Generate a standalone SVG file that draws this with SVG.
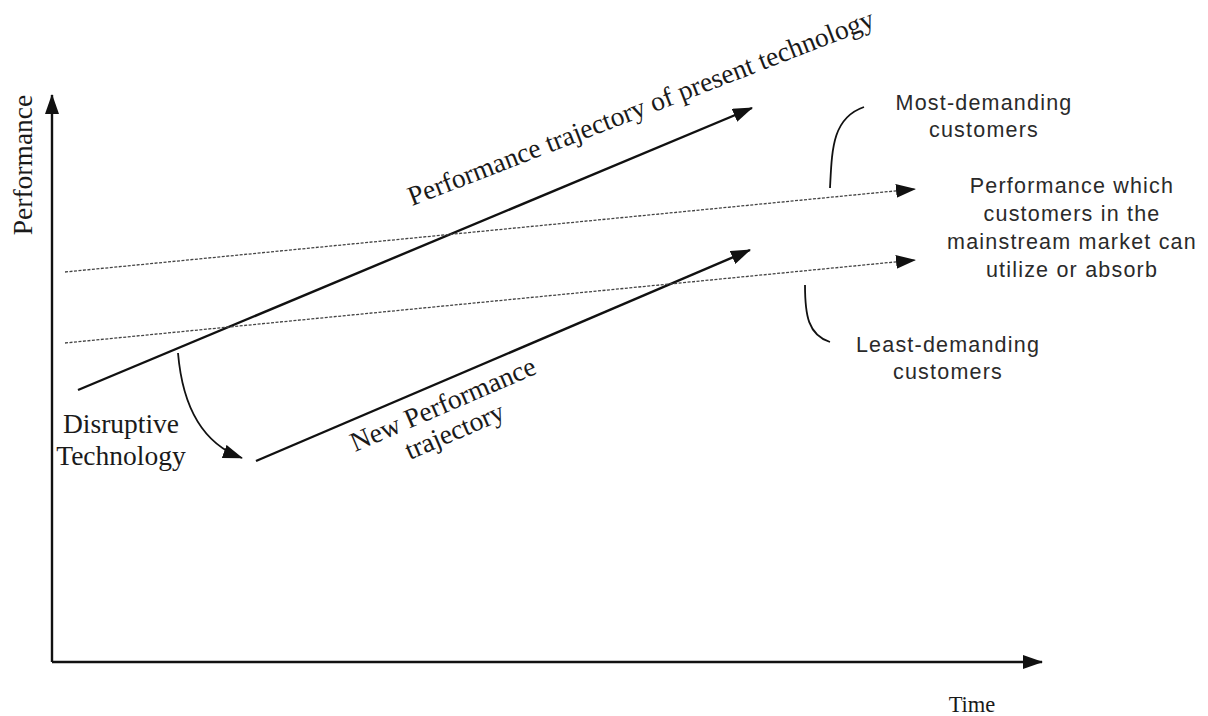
<svg xmlns="http://www.w3.org/2000/svg" width="1208" height="716" viewBox="0 0 1208 716">
<style>
.serif{font-family:"Liberation Serif","Times New Roman",serif;fill:#1a1a1a;font-size:27.5px}
.sans{font-family:"Liberation Sans",Arial,sans-serif;fill:#2a2a2a;text-anchor:middle;font-size:21.5px;letter-spacing:1.2px}
.solid{stroke:#111;stroke-width:2.4;fill:none}
.dot{stroke:#444;stroke-width:1.3;fill:none;stroke-dasharray:3 1.5}
.thin{stroke:#111;stroke-width:1.8;fill:none}
</style>
<defs>
<marker id="big" viewBox="0 0 20 14" markerWidth="20" markerHeight="14" refX="19" refY="7" orient="auto" markerUnits="userSpaceOnUse">
<path d="M0,0 L20,7 L0,14 Z" fill="#111"/>
</marker>
</defs>
<rect width="1208" height="716" fill="#fff"/>
<g id="connectors">
<path id="y-axis" class="solid" d="M52,662 L52,95" marker-end="url(#big)"/>
<path id="x-axis" class="solid" d="M52,662 L1042,662" marker-end="url(#big)"/>
<path id="present" class="solid" d="M78,390 L752,108" marker-end="url(#big)"/>
<path id="newperf" class="solid" d="M256,461 L750,250" marker-end="url(#big)"/>
<path id="upper" class="dot" d="M65,272 L915,189" marker-end="url(#big)"/>
<path id="lower" class="dot" d="M65,343 L915,260" marker-end="url(#big)"/>
<path id="disrupt" class="thin" d="M178,353 C182,400 198,442 242,458" marker-end="url(#big)"/>
<path id="most-brace" class="thin" d="M830,188 C832,150 832,118 864,107"/>
<path id="least-brace" class="thin" d="M805,285 C805,315 808,335 830,342"/>
</g>
<g id="label-performance"><text class="serif" transform="translate(32,165) rotate(-90)" text-anchor="middle">Performance</text></g>
<g id="label-time"><text class="serif" x="972" y="712" text-anchor="middle" style="font-size:22.5px">Time</text></g>
<g id="label-present"><text class="serif" transform="translate(412,206) rotate(-21.2)">Performance trajectory of present technology</text></g>
<g id="label-new"><text class="serif" transform="rotate(-23.3 355 452)"><tspan x="355" y="452">New Performance</tspan><tspan x="402" y="481">trajectory</tspan></text></g>
<g id="label-disruptive"><text class="serif" x="121" y="433" text-anchor="middle">Disruptive<tspan x="121" y="465">Technology</tspan></text></g>
<g id="label-most"><text class="sans" x="984" y="110">Most-demanding<tspan x="984" y="137">customers</tspan></text></g>
<g id="label-least"><text class="sans" x="948" y="352">Least-demanding<tspan x="948" y="379">customers</tspan></text></g>
<g id="label-mainstream"><text class="sans" x="1072" y="193">Performance which<tspan x="1072" y="221">customers in the</tspan><tspan x="1072" y="249">mainstream market can</tspan><tspan x="1072" y="277">utilize or absorb</tspan></text></g>
</svg>
